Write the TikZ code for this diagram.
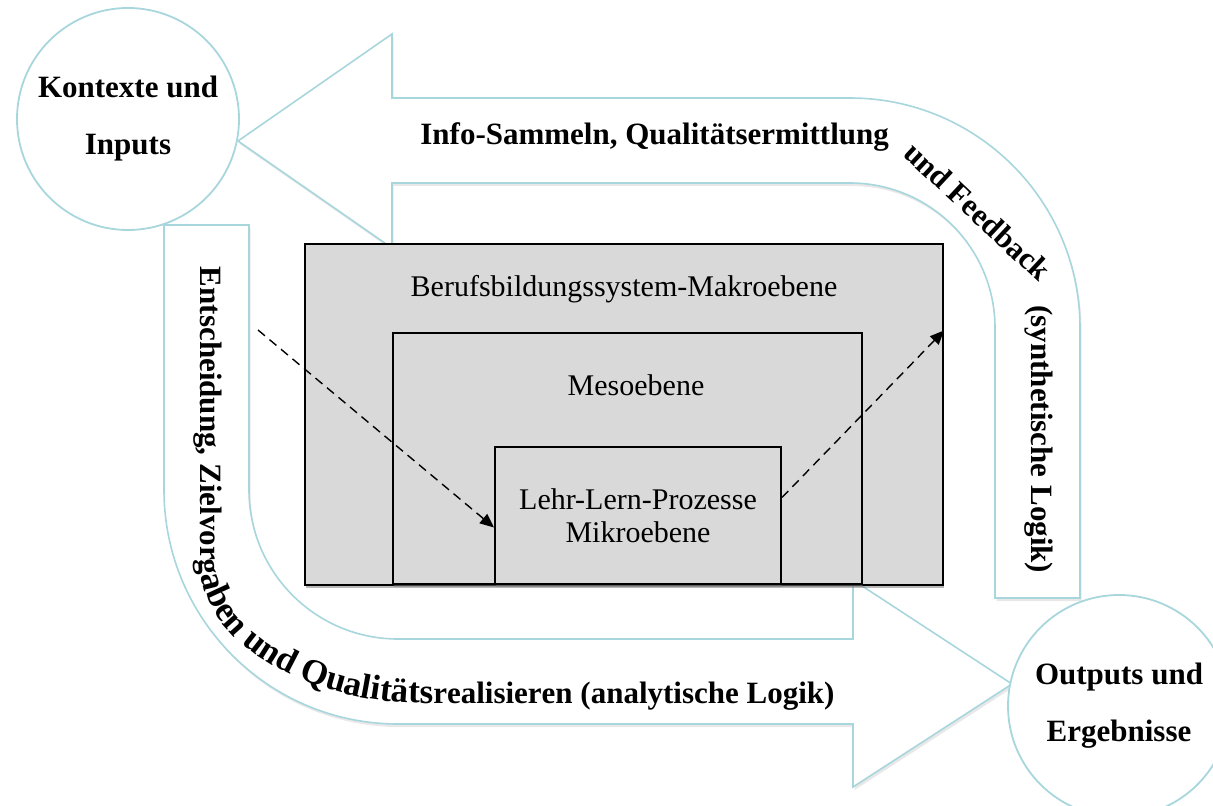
\documentclass[tikz,border=0pt]{standalone}
\usepackage{fontspec}
\setmainfont{Liberation Serif}
\usetikzlibrary{arrows.meta,shadows,decorations.text}
\definecolor{loopline}{RGB}{168,214,221}
\definecolor{levelfill}{RGB}{217,217,217}
\tikzset{
  bigarrow/.style={
    % The border:
    draw=loopline,line width=0.8pt,
    % The filling:
    fill=white,
    % a soft shadow below and to the right
    drop shadow={opacity=0.18,shadow xshift=0.8pt,shadow yshift=-1.5pt}
  }}
\tikzset{
	station/.style={
		% The shape:
		circle,minimum size=111pt,inner sep=0pt,
		% The rest
		draw=loopline,line width=0.9pt,fill=white,
		align=center,font=\fontsize{15.5}{28.5}\selectfont\bfseries}}
\tikzset{
	level/.style={
		% The shape:
		rectangle,inner sep=0pt,
		% The rest
		draw=black,line width=1pt,fill=levelfill,
		drop shadow={opacity=0.55,shadow xshift=0.6pt,shadow yshift=-1.6pt},
		align=center,font=\fontsize{15}{16.5}\selectfont},
	leveltext/.style={anchor=base,inner sep=0pt,font=\fontsize{15}{18}\selectfont},
	looptext/.style={anchor=base west,inner sep=0pt,font=\fontsize{15.5}{18}\selectfont\bfseries},
	flow/.style={->,dash pattern=on 4.5pt off 3pt,line width=0.7pt}}

\begin{document}
\begin{tikzpicture}[x=0.5pt,y=-0.5pt,>={Triangle[length=7pt,width=6pt]}]
	\useasboundingbox (0,0) rectangle (1213,806);
	% Upper loop, back to the inputs
	\draw[bigarrow] (238,141) -- (392,34) -- (392,98) -- (850,98)
		arc[start angle=90,end angle=0,radius=115pt] -- (1080,598) -- (995,598) -- (995,328)
		arc[start angle=0,end angle=90,radius=72.5pt] -- (392,183) -- (392,248) -- cycle;
	% Lower loop, on to the outputs
	\draw[bigarrow] (1012,684) -- (853,787) -- (853,724) -- (398,724)
		arc[start angle=270,end angle=180,radius=117pt] -- (164,225) -- (249,225) -- (249,490)
		arc[start angle=180,end angle=270,radius=74.5pt] -- (853,639) -- (853,580) -- cycle;
	\node[station] (inputs) at (128,119) {Kontexte und\\Inputs};
	\node[station] (outputs) at (1119,706) {Outputs und\\Ergebnisse};
	% The three levels
	\node[level,minimum width=319pt,minimum height=170.5pt] (makro) at (624,414.5) {};
	\node[level,minimum width=234.5pt,minimum height=125.5pt] (meso) at (627.5,458.5) {};
	\node[level,minimum width=143pt,minimum height=68.5pt] (mikro) at (638,515.5) {Lehr-Lern-Prozesse\\Mikroebene};
	\node[leveltext] (makrotext) at (624,297) {Berufsbildungssystem-Makroebene};
	\node[leveltext] (mesotext) at (636,395) {Mesoebene};
	% Texts in the loops
	\node[looptext] (sammeln) at (420,145) {Info-Sammeln, Qualitätsermittlung};
	\node[looptext,rotate=-43] (feedback) at (902,155) {und Feedback};
	\node[looptext,rotate=-90] (synth) at (1031,305) {(synthetische Logik)};
	\path[decorate,decoration={text along path,text align=left,
		text={|\fontsize{15.5}{18}\selectfont\bfseries|Entscheidung, Zielvorg|\fontsize{17.5}{18}\selectfont\bfseries|aben und Qualitäts|\fontsize{15.5}{18}\selectfont\bfseries|realisieren (analytische Logik)}}]
		(200,267) -- (200,560) .. controls (200,650) and (320,703) .. (420,703) -- (880,703);
	% Lines into and out of the micro level
	\coordinate (entry) at (258,330);
	\draw[flow] (entry) -- ([yshift=-6pt]mikro.west);
	\draw[flow] ([yshift=9pt]mikro.east) -- ([yshift=42pt]makro.east);
\end{tikzpicture}
\end{document}
